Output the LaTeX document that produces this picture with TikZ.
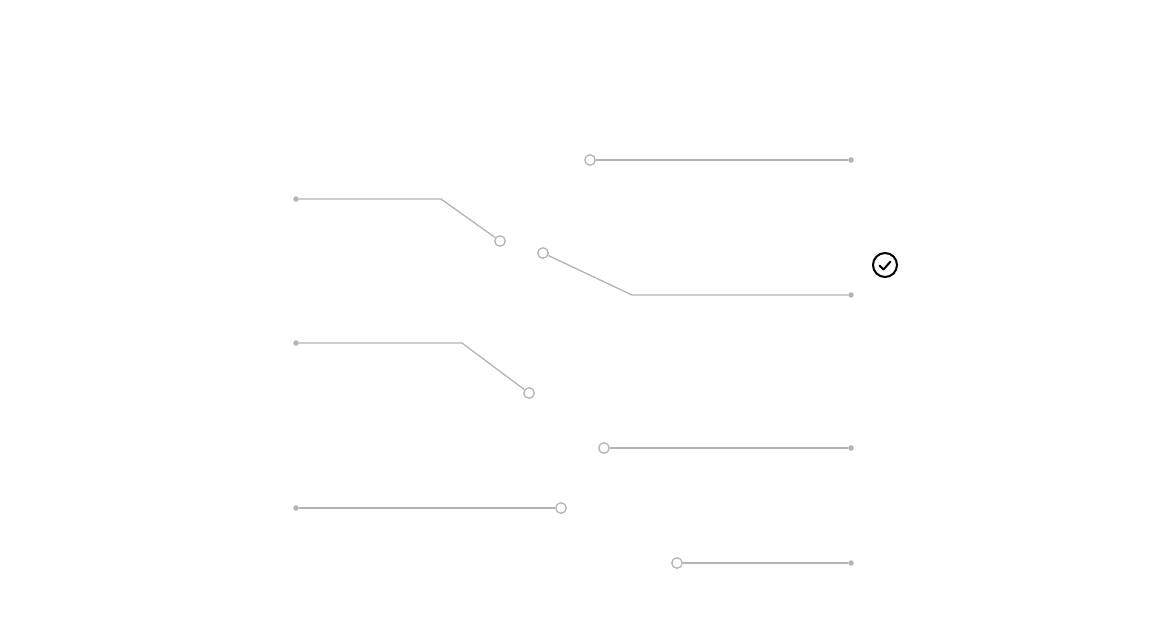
\documentclass[tikz,border=0pt]{standalone}
\begin{document}
\begin{tikzpicture}[x=1pt,y=-1pt,
  wire/.style={draw=linegray,line width=1.3pt},
  port/.style={circle,draw=linegray,line width=1.3pt,fill=white,minimum size=10.5pt,inner sep=0pt},
  pin/.style={circle,fill=linegray,minimum size=5.5pt,inner sep=0pt},
  okmark/.style={circle,draw=black,line width=2pt,minimum size=24pt,inner sep=0pt}]
\definecolor{linegray}{HTML}{B4B4B4}
\useasboundingbox (0,0) rectangle (1176,625);
\fill[white] (0,0) rectangle (1176,625);
% line 1
\node[pin] (d1) at (851,160) {};
\node[port] (p1) at (590,160) {};
% line 2
\node[pin] (d2) at (296,199) {};
\coordinate (b2) at (441,199);
\node[port] (p2) at (500,241) {};
% line 3
\node[port] (p3) at (543,253) {};
\coordinate (b3) at (632,295);
\node[pin] (d3) at (851,295) {};
% line 4
\node[pin] (d4) at (296,343) {};
\coordinate (b4) at (462,343);
\node[port] (p4) at (529,393) {};
% line 5
\node[port] (p5) at (604,448) {};
\node[pin] (d5) at (851,448) {};
% line 6
\node[pin] (d6) at (296,508) {};
\node[port] (p6) at (561,508) {};
% line 7
\node[port] (p7) at (677,563) {};
\node[pin] (d7) at (851,563) {};
% wires
\draw[wire] (p1) -- (d1);
\draw[wire] (d2) -- (b2) -- (p2);
\draw[wire] (p3) -- (b3) -- (d3);
\draw[wire] (d4) -- (b4) -- (p4);
\draw[wire] (p5) -- (d5);
\draw[wire] (d6) -- (p6);
\draw[wire] (p7) -- (d7);
% check icon
\node[okmark] (ok) at (885,265) {};
\draw[black,line width=2pt,line cap=round,line join=round]
  ([shift={(-5.5,0.5)}]ok.center) -- ([shift={(-1.5,4.5)}]ok.center) -- ([shift={(5.5,-3.5)}]ok.center);
\end{tikzpicture}
\end{document}
